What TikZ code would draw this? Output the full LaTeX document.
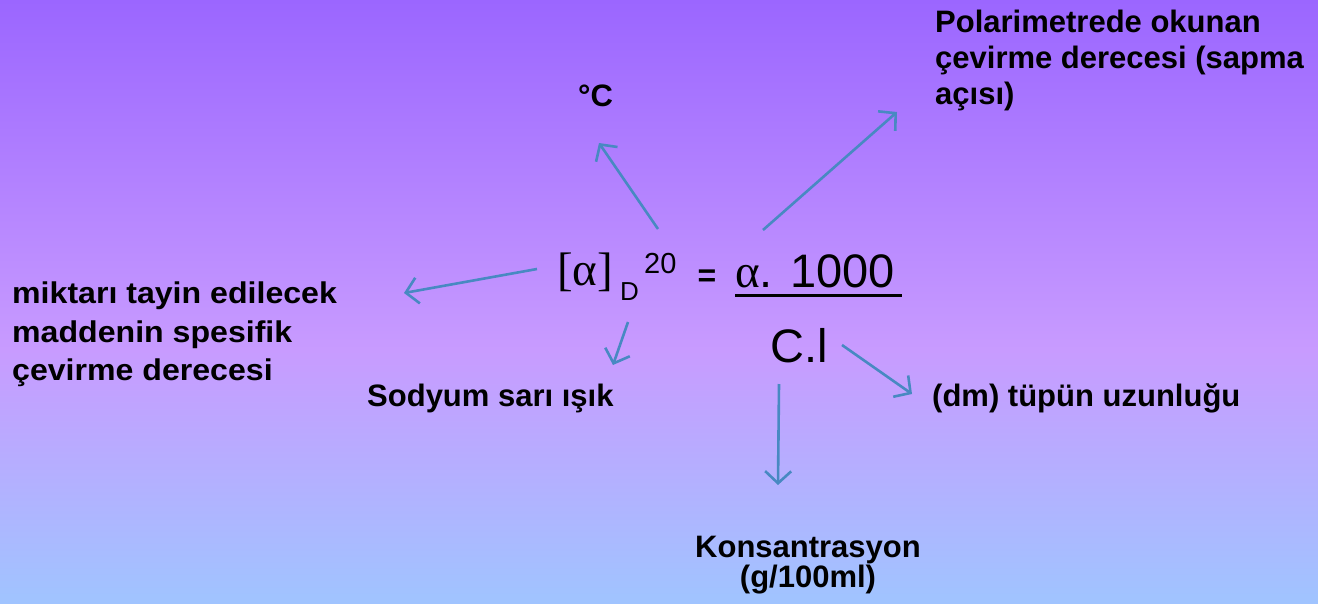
\documentclass[tikz,border=0pt]{standalone}
\usepackage{fontspec}
\setmainfont{Liberation Sans}
\newfontfamily\greekfont{Liberation Serif}
\newfontfamily\widefont[FakeStretch=1.07]{Liberation Sans}
\usetikzlibrary{arrows.meta}
\definecolor{arrowblue}{RGB}{72,137,194}
\pgfdeclareverticalshading{bgshade}{100bp}{%
  rgb(0bp)=(0.627,0.769,1);
  rgb(25bp)=(0.627,0.769,1);
  rgb(46bp)=(0.784,0.608,1);
  rgb(75bp)=(0.608,0.400,1);
  rgb(100bp)=(0.608,0.400,1)}
\tikzset{
  lbl/.style={inner sep=0pt, anchor=base west, font=\bfseries\fontsize{31}{38}\selectfont},
  lblw/.style={inner sep=0pt, anchor=base west, font=\widefont\bfseries\fontsize{30}{38}\selectfont},
  lblc/.style={inner sep=0pt, anchor=base, font=\bfseries\fontsize{31}{38}\selectfont},
  frm/.style={inner sep=0pt, anchor=base west, font=\fontsize{47}{52}\selectfont},
  arr/.style={draw=arrowblue, line width=2.6pt, -{Straight Barb[length=12pt,width=26pt,line width=2.6pt]}},
}
\begin{document}
\begin{tikzpicture}[x=1pt,y=-1pt]
\useasboundingbox (0,0) rectangle (1318,603);
\shade[shading=bgshade] (0,0) rectangle (1318,603);

% formula
\node[frm] (lhs) at (557,285) {\greekfont[α]};
\node[inner sep=0pt, anchor=base west, font=\fontsize{26}{28}\selectfont] (sub) at (620,300) {D};
\node[inner sep=0pt, anchor=base west, font=\fontsize{29}{32}\selectfont] (sup) at (644,273) {20};
\node[inner sep=0pt, font=\bfseries\fontsize{32}{36}\selectfont] (eq) at (707,278) {=};
\node[frm] (num) at (735,287) {{\greekfont α}. 1000};
\draw[line width=3pt] (735,295) -- (902,295);
\node[frm] (den) at (770,362) {C.l};

% labels
\node[lbl] (deg) at (578,106) {°C};
\node[lbl] (pol1) at (935,32) {Polarimetrede okunan};
\node[lbl] (pol2) at (935,68) {çevirme derecesi (sapma};
\node[lbl] (pol3) at (935,104) {açısı)};
\node[lblw] (mik1) at (12,303) {miktarı tayin edilecek};
\node[lblw] (mik2) at (12,342) {maddenin spesifik};
\node[lblw] (mik3) at (12,380) {çevirme derecesi};
\node[lbl] (sod) at (367,406) {Sodyum sarı ışık};
\node[lbl] (tup) at (932,406) {(dm) tüpün uzunluğu};
\node[lblc] (kon1) at (808,557) {Konsantrasyon};
\node[lblc] (kon2) at (808,587) {(g/100ml)};

% arrow ends
\coordinate (aS) at (658,229); \coordinate (aE) at (599,143);
\coordinate (bS) at (763,230); \coordinate (bE) at (897,112);
\coordinate (cS) at (537,269); \coordinate (cE) at (404,293);
\coordinate (dS) at (628,322); \coordinate (dE) at (613,365);
\coordinate (eS) at (842,345); \coordinate (eE) at (912,394);
\coordinate (fS) at (779,384); \coordinate (fE) at (778,485);

\draw[arr] (aS) -- (aE);
\draw[arr] (bS) -- (bE);
\draw[arr] (cS) -- (cE);
\draw[arr] (dS) -- (dE);
\draw[arr] (eS) -- (eE);
\draw[arr] (fS) -- (fE);
\end{tikzpicture}
\end{document}
